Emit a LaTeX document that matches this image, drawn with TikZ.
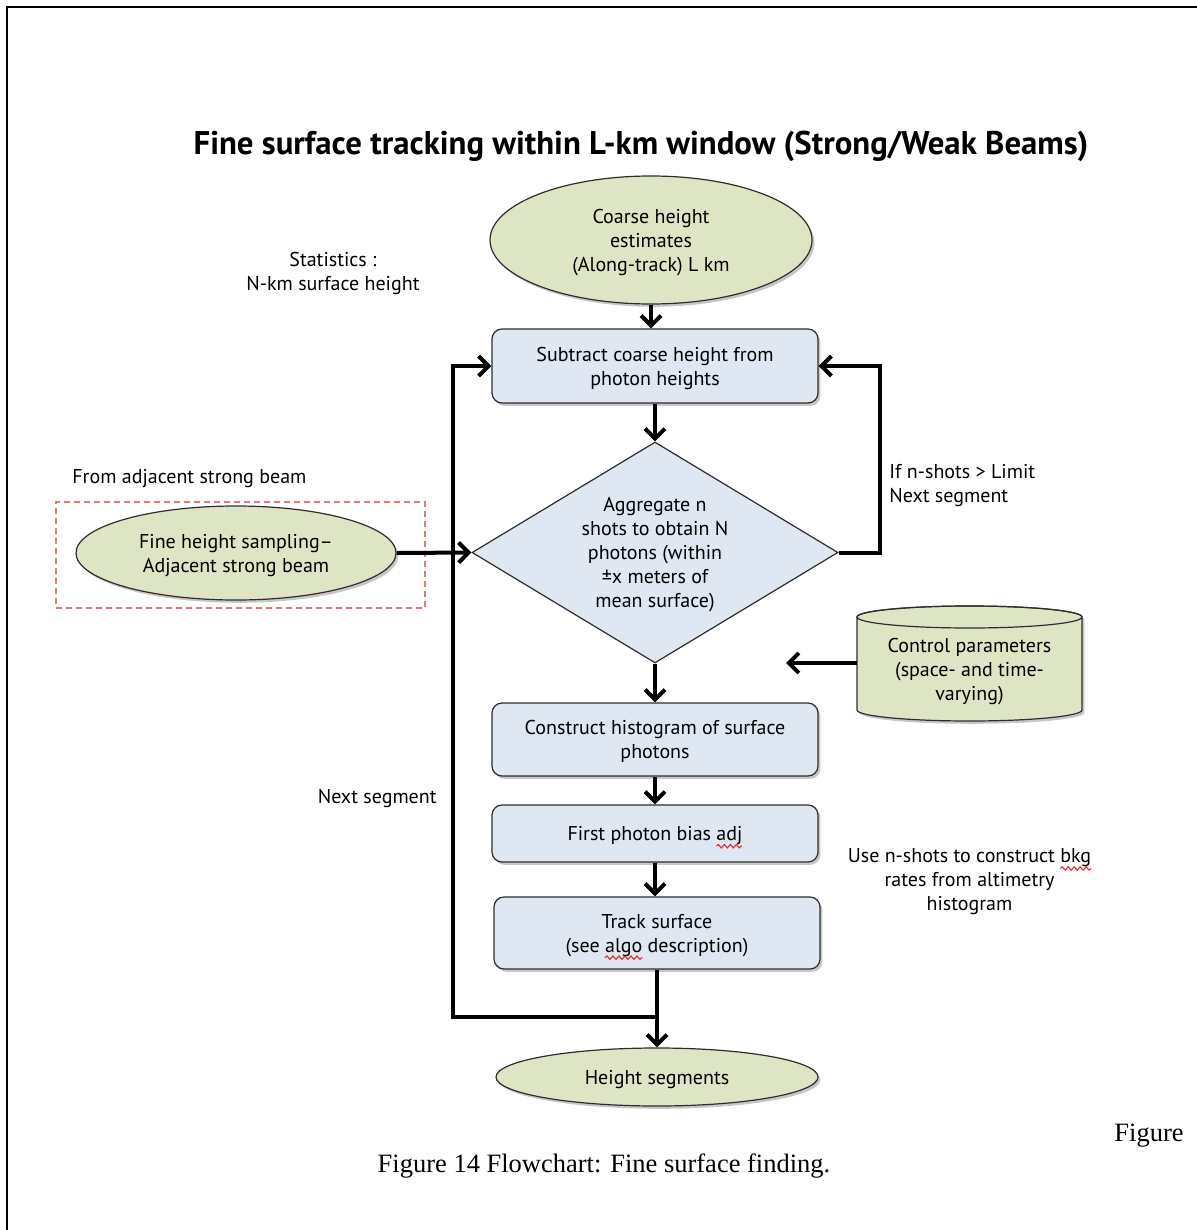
\documentclass[tikz,border=0pt]{standalone}
\usepackage{fontspec}
\setmainfont{Liberation Serif}
\newfontfamily\diagfont{PT Sans}
\usetikzlibrary{shapes.geometric,arrows.meta,shadows,calc,decorations.pathmorphing}

\definecolor{termgreen}{RGB}{222,229,197}
\definecolor{stepblue}{RGB}{223,231,242}
\definecolor{edgegray}{RGB}{45,45,45}
\definecolor{dashred}{RGB}{228,120,120}
\definecolor{squig}{RGB}{235,40,40}

% red wavy underline (spell-check mark) drawn under a word
\newsavebox\wordbox
\newlength\wordlen
\newcommand\spellmark[1]{\sbox\wordbox{#1}\setlength\wordlen{\wd\wordbox}%
  \tikz[overlay,baseline=0pt]{\draw[squig, fill=none, sharp corners, line width=0.55pt, decorate,
        decoration={snake, amplitude=0.85pt, segment length=3pt}]
    (0pt,-2.8pt) -- (\wordlen,-2.8pt);}\usebox\wordbox}

\begin{document}
\begin{tikzpicture}[x=0.5pt,y=-0.5pt,
  every node/.style={font=\diagfont\fontsize{10}{12}\selectfont, text=black, align=center},
  softshadow/.style={drop shadow={shadow xshift=1.2pt, shadow yshift=-1.4pt, opacity=0.22, fill=black}},
  terminal/.style={ellipse, draw=edgegray, line width=0.6pt, fill=termgreen, inner sep=0pt,
                   text depth=0pt, softshadow},
  stepbox/.style={rectangle, rounded corners=5pt, draw=edgegray, line width=0.6pt, fill=stepblue,
                  minimum width=163pt, inner sep=0pt, text depth=0pt, softshadow},
  decision/.style={diamond, draw=edgegray, line width=0.6pt, fill=stepblue, inner sep=0pt,
                   text depth=0pt, aspect=1.656, minimum width=183pt, minimum height=110.5pt},
  flow/.style={line width=2pt, -{Straight Barb[length=5pt,width=10pt,line width=2pt]}},
  note/.style={inner sep=0pt},
]
\useasboundingbox (0,0) rectangle (1196,1230);

% page frame
\draw[line width=1.3pt] (7,1232) -- (7,7) -- (1198,7);

% title
\node[note, font=\diagfont\bfseries\fontsize{16.4}{19}\selectfont] (title) at (641,146)
  {Fine surface tracking within L-km window (Strong/Weak Beams)};

% main column
\node[terminal, minimum width=161pt, minimum height=64pt] (coarse) at (651,240)
  {Coarse height\\estimates\\(Along-track) L km};
\node[stepbox, minimum height=37pt] (sub) at (655,366)
  {Subtract coarse height from\\photon heights};
\node[decision] (agg) at (655,552.5)
  {Aggregate n\\shots to obtain N\\photons (within\\±x meters of\\mean surface)};
\node[stepbox, minimum height=36.5pt] (hist) at (655,739.5)
  {Construct histogram of surface\\photons};
\node[stepbox, minimum height=28.5pt] (bias) at (655,833.5)
  {First photon bias \spellmark{adj}};
\node[stepbox, minimum height=36pt] (track) at (657,933)
  {Track surface\\(see \spellmark{algo} description)};
\node[terminal, minimum width=161pt, minimum height=29pt] (hseg) at (657,1077)
  {Height segments};

% adjacent beam input
\node[draw=dashred, dash pattern=on 3pt off 2pt, line width=0.8pt, minimum width=184.5pt,
      minimum height=53pt, inner sep=0pt] (adjbox) at (240.5,555) {};
\node[terminal, minimum width=160pt, minimum height=47pt] (fine) at (236,553)
  {Fine height sampling–\\Adjacent strong beam};

% control parameters (cylinder)
\node[minimum width=112.5pt, minimum height=58pt, inner sep=0pt] (ctrl) at (969.5,663) {};
\begin{scope}
  \fill[black, opacity=0.22, shift={(2.4,2.8)}]
    (857,617) -- (857,710) arc[start angle=180, end angle=360, x radius=56.25pt, y radius=5.5pt]
    -- (1082,617) arc[start angle=0, end angle=180, x radius=56.25pt, y radius=5.5pt] -- cycle;
  \filldraw[fill=termgreen, draw=edgegray, line width=0.6pt]
    (857,617) -- (857,710) arc[start angle=180, end angle=360, x radius=56.25pt, y radius=5.5pt]
    -- (1082,617) arc[start angle=0, end angle=180, x radius=56.25pt, y radius=5.5pt] -- cycle;
  \draw[edgegray, line width=0.6pt] (969.5,617) ellipse[x radius=56.25pt, y radius=5.5pt];
\end{scope}
\node[note] (ctrltxt) at (969.5,672) {Control parameters\\(space- and time-\\varying)};
\coordinate (ctrlend) at (786,663);

% side notes
\node[note] (stats) at (333,273) {Statistics :\\N-km surface height};
\node[note, anchor=west] (adjlbl) at (72,479) {From adjacent strong beam};
\node[note, align=left, anchor=west] (limit) at (889,486) {If n-shots > Limit\\Next segment};
\node[note, anchor=east] (nextlbl) at (437,799) {Next segment};
\node[note] (bkg) at (969.5,882) {Use n-shots to construct \spellmark{bkg}\\rates from altimetry\\histogram};

% connectors
\coordinate (junc) at (657,1017);
\coordinate (loopc) at (453,1017);
\draw[flow] (coarse.south) -- (coarse.south |- sub.north);
\draw[flow] (sub.south) -- (agg.north);
\draw[flow] (agg.south) -- (hist.north);
\draw[flow] (hist.south) -- (bias.north);
\draw[flow] (bias.south) -- (bias.south |- track.north);
\draw[flow] (track.south) -- (hseg.north);
\draw[flow] (agg.east) -- ++(41,0) |- (sub.east);
\draw[flow] (junc) -- (loopc) |- (sub.west);
\draw[flow] (fine.east) -- (agg.west);
\draw[flow] (ctrl.west) -- (ctrlend);

% caption
\node[note, font=\rmfamily\fontsize{13.25}{15}\selectfont] (cap) at (604,1166)
  {Figure 14 Flowchart: Fine surface finding.};
\node[note, font=\rmfamily\fontsize{13.25}{15}\selectfont] (capcut) at (1149,1136) {Figure};
\end{tikzpicture}
\end{document}
